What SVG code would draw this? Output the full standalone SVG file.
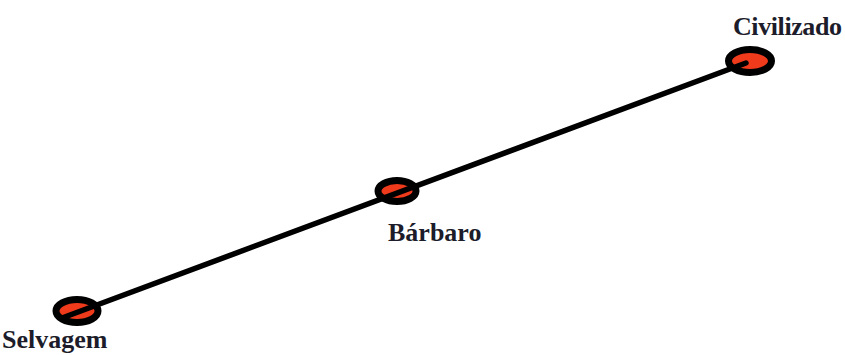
<svg xmlns="http://www.w3.org/2000/svg" width="845" height="355" viewBox="0 0 845 355">
<style>
.node{fill:#f03a1c;stroke:#000;stroke-width:7}
.lbl{font-family:"Liberation Serif",serif;font-weight:bold;font-size:26px;fill:#1c1c2a}
.conn{stroke:#000;stroke-width:5.5;stroke-linecap:round;fill:none}
</style>
<rect width="845" height="355" fill="#fff"/>
<g id="n-selvagem">
<ellipse class="node" cx="77" cy="311" rx="21" ry="11.5"/>
<text class="lbl" x="2" y="348">Selvagem</text>
</g>
<g id="n-barbaro">
<ellipse class="node" cx="397" cy="191" rx="19" ry="10.5"/>
<text class="lbl" x="388" y="241">Bárbaro</text>
</g>
<g id="n-civilizado">
<ellipse class="node" cx="750" cy="61" rx="21.5" ry="11.5"/>
<text class="lbl" x="733" y="35" textLength="109">Civilizado</text>
</g>
<g id="connectors">
<path class="conn" d="M62 318 L746 63"/>
</g>
</svg>
